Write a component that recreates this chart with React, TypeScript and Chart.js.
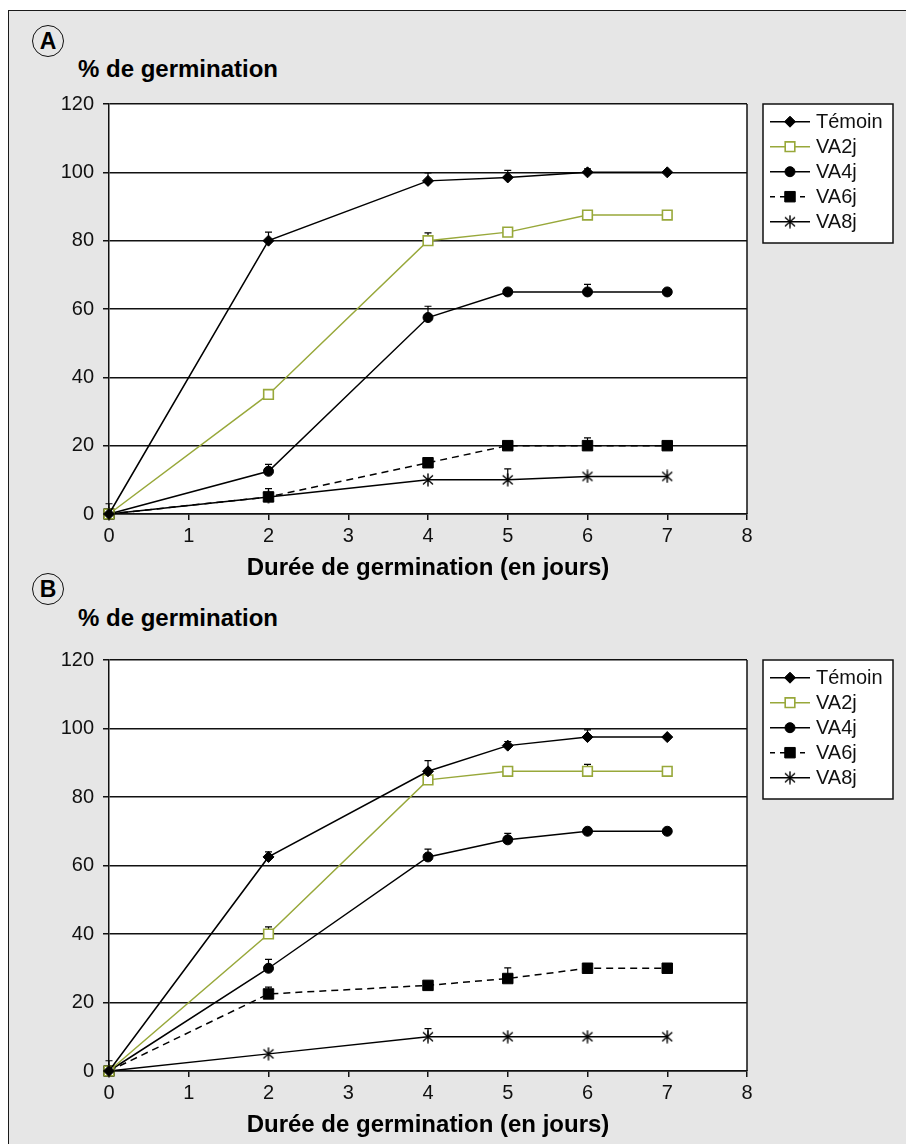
import React, { useEffect, useRef } from 'react';
import { Chart, registerables } from 'chart.js';
import { drawPoint } from 'chart.js/helpers';

Chart.register(...registerables);

const FONT = '"Liberation Sans", Arial, Helvetica, sans-serif';

// ---- data ----
const days = [0, 2, 4, 5, 6, 7];
const seriesNames = ['Témoin', 'VA2j', 'VA4j', 'VA6j', 'VA8j'];
const yTitle = '% de germination';
const xTitle = 'Durée de germination (en jours)';

// Panel A
const aTemoin = [0, 80, 97.5, 98.5, 100, 100];
const aVA2j = [0, 35, 80, 82.5, 87.5, 87.5];
const aVA4j = [0, 12.5, 57.5, 65, 65, 65];
const aVA6j = [0, 5, 15, 20, 20, 20];
const aVA8j = [0, 5, 10, 10, 11, 11];
const aErrTemoin = [3, 2.5, 2.3, 2.1, 1, 0];
const aErrVA2j = [0, 0, 2.3, 0, 0, 0];
const aErrVA4j = [0, 2, 3.3, 1, 2.2, 0];
const aErrVA6j = [0, 0, 0, 0, 2.3, 0];
const aErrVA8j = [0, 2.4, 0, 3.2, 0, 0];

// Panel B
const bTemoin = [0, 62.5, 87.5, 95, 97.5, 97.5];
const bVA2j = [0, 40, 85, 87.5, 87.5, 87.5];
const bVA4j = [0, 30, 62.5, 67.5, 70, 70];
const bVA6j = [0, 22.5, 25, 27, 30, 30];
const bVA8j = [0, 5, 10, 10, 10, 10];
const bErrTemoin = [3, 1.5, 3.1, 1.2, 2.1, 0];
const bErrVA2j = [0, 2.1, 0, 0, 2, 0];
const bErrVA4j = [0, 2.6, 2.3, 1.9, 0, 0];
const bErrVA6j = [0, 2, 0, 3.1, 1.2, 1.2];
const bErrVA8j = [0, 0, 2.4, 0, 0, 0];

const valuesA = [aTemoin, aVA2j, aVA4j, aVA6j, aVA8j];
const errorsA = [aErrTemoin, aErrVA2j, aErrVA4j, aErrVA6j, aErrVA8j];
const valuesB = [bTemoin, bVA2j, bVA4j, bVA6j, bVA8j];
const errorsB = [bErrTemoin, bErrVA2j, bErrVA4j, bErrVA6j, bErrVA8j];

const GREEN = '#98a83a';

function makeStar(): HTMLCanvasElement {
  const c = document.createElement('canvas');
  c.width = 14;
  c.height = 14;
  const g = c.getContext('2d')!;
  g.strokeStyle = '#000';
  g.lineWidth = 1.4;
  g.beginPath();
  g.moveTo(7, 0.5);
  g.lineTo(7, 13.5);
  g.moveTo(2, 2.5);
  g.lineTo(12, 11.5);
  g.moveTo(12, 2.5);
  g.lineTo(2, 11.5);
  g.stroke();
  return c;
}

function seriesStyles(star: HTMLCanvasElement) {
  return [
    { color: '#000', fill: '#000', pointStyle: 'rectRot' as any, radius: 5.5, bw: 1, dash: [] as number[] },
    { color: GREEN, fill: '#fff', pointStyle: 'rect' as any, radius: 6.8, bw: 1.6, dash: [] as number[] },
    { color: '#000', fill: '#000', pointStyle: 'circle' as any, radius: 5, bw: 1, dash: [] as number[] },
    { color: '#000', fill: '#000', pointStyle: 'rect' as any, radius: 7.4, bw: 1, dash: [7, 5] },
    { color: '#000', fill: '#000', pointStyle: star as any, radius: 6, bw: 1, dash: [] as number[] },
  ];
}

const panelPlugin = {
  id: 'panelPlugin',
  beforeDraw(chart: any) {
    const { ctx, chartArea: a } = chart;
    ctx.save();
    ctx.fillStyle = '#fff';
    ctx.fillRect(a.left, a.top, a.right - a.left, a.bottom - a.top);
    ctx.restore();
  },
  beforeDatasetsDraw(chart: any) {
    const { ctx, chartArea: a, scales } = chart;
    ctx.save();
    // right border
    ctx.strokeStyle = '#111';
    ctx.lineWidth = 1.5;
    ctx.beginPath();
    ctx.moveTo(a.right, a.top);
    ctx.lineTo(a.right, a.bottom);
    ctx.stroke();
    // error bars
    ctx.lineWidth = 1.2;
    ctx.strokeStyle = '#000';
    chart.data.datasets.forEach((ds: any) => {
      const errs: number[] = ds.errorPlus || [];
      ds.data.forEach((p: any, j: number) => {
        const e = errs[j];
        if (!e) return;
        const x = scales.x.getPixelForValue(p.x);
        const y1 = scales.y.getPixelForValue(p.y);
        const y2 = scales.y.getPixelForValue(p.y + e);
        ctx.beginPath();
        ctx.moveTo(x, y1);
        ctx.lineTo(x, y2);
        ctx.moveTo(x - 3.5, y2);
        ctx.lineTo(x + 3.5, y2);
        ctx.stroke();
      });
    });
    ctx.restore();
  },
  afterDraw(chart: any) {
    const { ctx, chartArea: a } = chart;
    const left = a.right + 16;
    const top = a.top;
    const w = 130;
    const h = 139;
    ctx.save();
    ctx.fillStyle = '#fff';
    ctx.fillRect(left, top, w, h);
    ctx.strokeStyle = '#111';
    ctx.lineWidth = 1.5;
    ctx.strokeRect(left, top, w, h);
    chart.data.datasets.forEach((ds: any, i: number) => {
      const y = top + 17.7 + i * 25;
      ctx.save();
      ctx.strokeStyle = ds.borderColor;
      ctx.lineWidth = 1.5;
      ctx.setLineDash(ds.borderDash && ds.borderDash.length ? [5, 5] : []);
      ctx.beginPath();
      ctx.moveTo(left + 7, y);
      ctx.lineTo(left + 47, y);
      ctx.stroke();
      ctx.restore();
      ctx.save();
      ctx.fillStyle = ds.pointBackgroundColor;
      ctx.strokeStyle = ds.pointBorderColor;
      ctx.lineWidth = ds.pointBorderWidth;
      drawPoint(ctx, { pointStyle: ds.pointStyle, radius: ds.pointRadius, rotation: 0, borderWidth: ds.pointBorderWidth } as any, left + 27, y);
      ctx.restore();
      ctx.fillStyle = '#111';
      ctx.font = `20px ${FONT}`;
      ctx.textBaseline = 'middle';
      ctx.textAlign = 'left';
      ctx.fillText(ds.label, left + 53, y + 1);
    });
    ctx.restore();
  },
};

function GermChart({ values, errors, top, height, padBottom }: { values: number[][]; errors: number[][]; top: number; height: number; padBottom: number }) {
  const ref = useRef<HTMLCanvasElement>(null);
  useEffect(() => {
    const canvas = ref.current!;
    const star = makeStar();
    const styles = seriesStyles(star);
    const datasets = seriesNames.map((name, i) => ({
      label: name,
      data: days.map((d, j) => ({ x: d, y: values[i][j] })),
      errorPlus: errors[i],
      borderColor: styles[i].color,
      borderWidth: 1.5,
      borderDash: styles[i].dash,
      pointStyle: styles[i].pointStyle,
      pointRadius: styles[i].radius,
      pointHoverRadius: styles[i].radius,
      pointBackgroundColor: styles[i].fill,
      pointBorderColor: styles[i].color,
      pointBorderWidth: styles[i].bw,
      tension: 0,
      fill: false,
      clip: false as any,
    }));
    const chart = new Chart(canvas, {
      type: 'line',
      data: { datasets } as any,
      options: {
        animation: false,
        responsive: false,
        maintainAspectRatio: false,
        devicePixelRatio: 1,
        layout: { padding: { left: 0, top: 104, right: 159, bottom: padBottom } },
        plugins: { legend: { display: false }, tooltip: { enabled: false }, title: { display: false } },
        scales: {
          x: {
            type: 'linear',
            min: 0,
            max: 8,
            ticks: { stepSize: 1, color: '#111', font: { size: 20, family: FONT }, padding: 4, maxRotation: 0 },
            grid: { display: true, drawOnChartArea: false, drawTicks: true, tickLength: 6, color: '#111', lineWidth: 1.5 },
            border: { display: true, color: '#111', width: 1.5 },
            title: { display: true, text: xTitle, color: '#000', font: { size: 24, weight: 'bold', family: FONT }, padding: { top: 0, bottom: 0 } },
            afterFit: (s: any) => { s.height = 69; },
          },
          y: {
            type: 'linear',
            min: 0,
            max: 120,
            ticks: { stepSize: 20, color: '#111', font: { size: 20, family: FONT }, padding: 9 },
            grid: { display: true, drawOnChartArea: true, drawTicks: true, tickLength: 6, color: '#111', lineWidth: 1.5 },
            border: { display: true, color: '#111', width: 1.5 },
            afterFit: (s: any) => { s.width = 109; },
          },
        },
      } as any,
      plugins: [panelPlugin],
    });
    return () => chart.destroy();
  }, []);
  return (
    <canvas
      ref={ref}
      width={906}
      height={height}
      style={{ position: 'absolute', left: 0, top, width: 906, height, display: 'block' }}
    />
  );
}

function CircleLabel({ letter, cx, cy }: { letter: string; cx: number; cy: number }) {
  return (
    <div
      style={{
        position: 'absolute',
        left: cx - 16,
        top: cy - 16,
        width: 30,
        height: 30,
        border: '1.5px solid #111',
        borderRadius: '50%',
        display: 'flex',
        alignItems: 'center',
        justifyContent: 'center',
        font: `bold 23px ${FONT}`,
        color: '#000',
        lineHeight: 1,
      }}
    >
      {letter}
    </div>
  );
}

function TitleText({ top }: { top: number }) {
  return (
    <div style={{ position: 'absolute', left: 78, top, font: `bold 24px ${FONT}`, lineHeight: '24px', color: '#000', whiteSpace: 'nowrap' }}>
      {yTitle}
    </div>
  );
}

export default function App() {
  return (
    <div style={{ position: 'fixed', left: 0, top: 0, width: 906, height: 1144, overflow: 'hidden', background: '#fff' }}>
      <div
        style={{
          position: 'absolute',
          left: 8,
          top: 10,
          width: 920,
          height: 1160,
          background: '#e6e6e6',
          borderLeft: '1.5px solid #1a1a1a',
          borderTop: '1.5px solid #1a1a1a',
        }}
      />
      <CircleLabel letter="A" cx={48} cy={41} />
      <TitleText top={57} />
      <CircleLabel letter="B" cx={48} cy={589} />
      <TitleText top={606} />
      <GermChart values={valuesA} errors={errorsA} top={0} height={590} padBottom={7} />
      <GermChart values={valuesB} errors={errorsB} top={556} height={588} padBottom={4} />
    </div>
  );
}
